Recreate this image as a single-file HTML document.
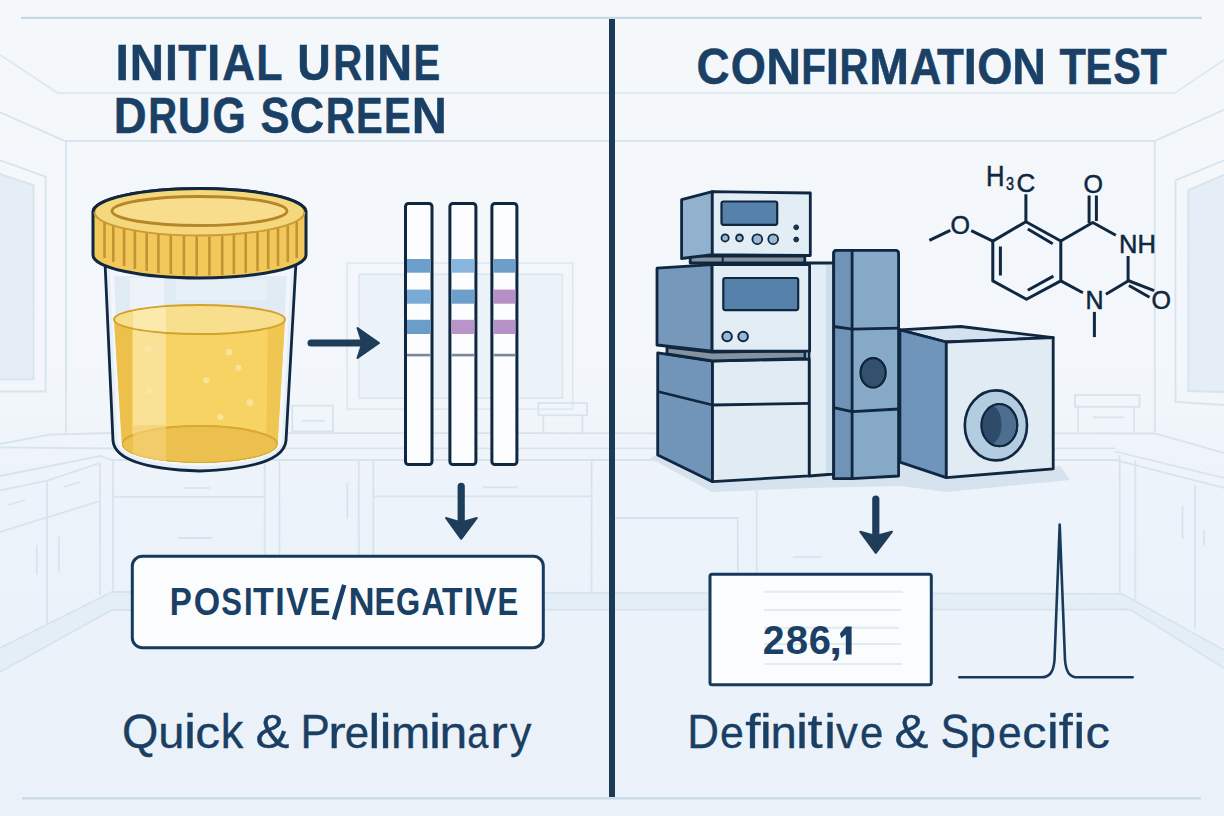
<!DOCTYPE html>
<html><head><meta charset="utf-8">
<style>
html,body{margin:0;padding:0;width:1224px;height:816px;overflow:hidden;background:#eef4f9;}
svg{display:block;}
text{font-family:"Liberation Sans",sans-serif;}
</style></head>
<body>
<svg width="1224" height="816" viewBox="0 0 1224 816">
<defs>
<linearGradient id="bgg" x1="0" y1="0" x2="0" y2="1">
<stop offset="0" stop-color="#f4f8fb"/>
<stop offset="0.45" stop-color="#f3f7fb"/>
<stop offset="0.6" stop-color="#edf3fa"/>
<stop offset="1" stop-color="#eaf1f9"/>
</linearGradient>
</defs>
<rect x="0" y="0" width="1224" height="816" fill="url(#bgg)"/>

<!-- BACKGROUND ROOM -->
<g id="room" fill="none" stroke="#d7e4ee" stroke-width="1.8">
<!-- window panels fill -->
<path d="M0,174 L33.4,185 L33.4,379.4 L0,379.4 Z" fill="#e5eef6" stroke="none"/>
<rect x="359" y="274.3" width="203.4" height="123.8" fill="#ebf2f8" stroke="none"/>
<path d="M1188,190 L1224,175 L1224,392 L1188,391 Z" fill="#e5eef6" stroke="none"/>
<path d="M0,648 L112,592 L1122,593.8 L1224,650 L1224,668 L1130,609.5 L112,610 L0,672 Z" fill="#e4eef6" stroke="none"/>
<!-- ceiling / wall edges -->
<path d="M0,112.3 L64.5,140.8 L1155,140.8 L1224,109.7"/>
<path d="M0,55 L58,93 L1174.8,93.2 L1224,60" stroke="#dde8f1"/>
<line x1="66" y1="141" x2="66" y2="433"/>
<line x1="1154.8" y1="141" x2="1154.8" y2="432"/>
<!-- left window -->
<path d="M0,160.3 L45.6,176.6 L45.6,391.5 L0,391.5"/>
<path d="M0,174 L33.6,185.2 L33.6,379.4 L0,379.4"/>
<!-- right window -->
<path d="M1224,160.4 L1175.5,180.3 L1175.5,402 L1224,405"/>
<path d="M1224,174.8 L1188.3,190.2 L1188.3,391 L1224,392"/>
<!-- back window behind strips -->
<rect x="347.2" y="263.3" width="225.5" height="145.9" stroke="#dfe9f1"/>
<rect x="359" y="274.3" width="203.4" height="123.8" stroke="#dce7f0"/>
<!-- counter -->
<path d="M0,444 L49.7,434.6 L109.8,433 L1154.8,433.5 L1224,453"/>
<path d="M0,447.4 L112,448.5 L1115,448.3"/>
<path d="M0,476 L100,456 L112,460 L1115,460 L1224,488"/>
<path d="M0,490.3 L47,480.6 L100,463"/>
<!-- left cabinets -->
<line x1="47" y1="480.6" x2="47" y2="624.7"/>
<line x1="100" y1="463" x2="100" y2="595"/>
<line x1="113" y1="460" x2="113" y2="592"/>
<path d="M0,532 L100,501"/>
<path d="M0,648 L112,592 L1122,593.8 L1224,650"/>
<path d="M0,672 L112,610 L1130,609.5 L1224,668"/>
<line x1="36.8" y1="545" x2="36.8" y2="574.7"/>
<line x1="58.8" y1="536.5" x2="58.8" y2="571.8"/>
<line x1="8" y1="505" x2="25" y2="500"/><line x1="64" y1="487" x2="80" y2="482"/>
<!-- back cabinets -->
<line x1="264.7" y1="460" x2="264.7" y2="592"/>
<line x1="279.4" y1="460" x2="279.4" y2="592"/>
<line x1="358.8" y1="460" x2="358.8" y2="592"/>
<line x1="373.3" y1="460" x2="373.3" y2="592"/>
<line x1="591.6" y1="460" x2="591.6" y2="592"/>
<line x1="113" y1="496.8" x2="264.7" y2="496.8"/>
<line x1="373.3" y1="496.4" x2="591.6" y2="496.4"/>
<line x1="185" y1="488" x2="210" y2="488"/><line x1="178" y1="538" x2="212" y2="538"/>
<line x1="482.8" y1="487.3" x2="517.5" y2="487.3"/>
<line x1="347.3" y1="482.8" x2="347.3" y2="519"/>
<!-- counter items -->
<rect x="292.3" y="405.7" width="40.7" height="25.7"/>
<line x1="302" y1="420.8" x2="325" y2="420.8"/>
<rect x="538.4" y="403" width="48.6" height="12.3"/>
<line x1="543.3" y1="415" x2="543.3" y2="433"/><line x1="582.5" y1="415" x2="582.5" y2="433"/>
<rect x="1075" y="395" width="64.5" height="11.8"/>
<path d="M1078,406.8 L1078,431.4 M1134,406.8 L1134,431.4"/>
<line x1="1093" y1="417.3" x2="1124" y2="417.3"/>
<!-- right panel cabinets -->
<path d="M612,518 L737.8,518 L737.8,592"/>
<line x1="756.7" y1="490" x2="756.7" y2="592"/>
<line x1="793" y1="557" x2="822" y2="557"/>
<line x1="1119.7" y1="455" x2="1119.7" y2="594"/>
<line x1="1135.3" y1="460" x2="1135.3" y2="600"/>
<line x1="1195" y1="485" x2="1195" y2="629"/>
<path d="M1115,451.5 L1224,478"/>
<line x1="1182.5" y1="505.7" x2="1182.5" y2="539"/>
<line x1="1204" y1="530" x2="1204" y2="545"/>
</g>

<!-- frame lines -->
<line x1="21" y1="17.8" x2="1202" y2="17.8" stroke="#c8d9e6" stroke-width="2.2"/>
<line x1="22" y1="798.4" x2="1201" y2="798.4" stroke="#c8d9e6" stroke-width="2.2"/>
<rect x="609" y="19" width="6" height="778" fill="#1b3a56"/>

<!-- TITLES -->
<g font-size="50" font-weight="bold" fill="#1a4065" stroke="#1a4065" stroke-width="0.5"><text transform="translate(115.55,80.3) scale(0.972,1)">I</text><text transform="translate(129.63,80.3) scale(0.949,1)">N</text><text transform="translate(164.89,80.3) scale(0.930,1)">I</text><text transform="translate(178.29,80.3) scale(0.917,1)">T</text><text transform="translate(207.00,80.3) scale(0.958,1)">I</text><text transform="translate(222.27,80.3) scale(0.906,1)">A</text><text transform="translate(256.32,80.3) scale(0.861,1)">L</text><text transform="translate(297.31,80.3) scale(0.928,1)">U</text><text transform="translate(333.21,80.3) scale(0.803,1)">R</text><text transform="translate(363.10,80.3) scale(0.958,1)">I</text><text transform="translate(376.93,80.3) scale(0.976,1)">N</text><text transform="translate(413.55,80.3) scale(0.800,1)">E</text></g>
<g font-size="50" font-weight="bold" fill="#1a4065" stroke="#1a4065" stroke-width="0.5"><text transform="translate(113.86,132.8) scale(0.910,1)">D</text><text transform="translate(148.33,132.8) scale(0.800,1)">R</text><text transform="translate(177.86,132.8) scale(0.912,1)">U</text><text transform="translate(212.54,132.8) scale(0.857,1)">G</text><text transform="translate(260.44,132.8) scale(0.871,1)">S</text><text transform="translate(289.84,132.8) scale(0.957,1)">C</text><text transform="translate(325.81,132.8) scale(0.803,1)">R</text><text transform="translate(356.00,132.8) scale(0.800,1)">E</text><text transform="translate(383.90,132.8) scale(0.800,1)">E</text><text transform="translate(411.85,132.8) scale(0.973,1)">N</text></g>
<g font-size="50" font-weight="bold" fill="#1a4065" stroke="#1a4065" stroke-width="0.5"><text transform="translate(696.42,84.3) scale(0.915,1)">C</text><text transform="translate(730.75,84.3) scale(0.904,1)">O</text><text transform="translate(766.17,84.3) scale(0.966,1)">N</text><text transform="translate(801.18,84.3) scale(0.812,1)">F</text><text transform="translate(825.70,84.3) scale(0.958,1)">I</text><text transform="translate(839.52,84.3) scale(0.800,1)">R</text><text transform="translate(869.30,84.3) scale(0.955,1)">M</text><text transform="translate(909.81,84.3) scale(0.876,1)">A</text><text transform="translate(936.91,84.3) scale(0.880,1)">T</text><text transform="translate(963.64,84.3) scale(0.944,1)">I</text><text transform="translate(977.15,84.3) scale(0.904,1)">O</text><text transform="translate(1012.28,84.3) scale(0.932,1)">N</text><text transform="translate(1059.51,84.3) scale(0.866,1)">T</text><text transform="translate(1085.55,84.3) scale(0.800,1)">E</text><text transform="translate(1113.21,84.3) scale(0.828,1)">S</text><text transform="translate(1140.72,84.3) scale(0.852,1)">T</text></g>

<!-- JAR -->
<g id="jar">
<!-- glass body -->
<path d="M105,262 L113,441 C115,458 140,469 199.5,471 C259,469 284,458 286,441 L296,262 Z" fill="#e6eff7"/>
<path d="M110,270 L117,440 C119,454 142,464 199.5,466 C257,464 280,454 282,440 L291,270 Z" fill="#f3f7fb"/>
<path d="M114,276 L121,440 L278,440 L287,276 Z" fill="#e1ebf4"/>
<rect x="130" y="278" width="34" height="170" fill="#eef4f9" opacity="0.9"/>
<rect x="176" y="280" width="90" height="20" fill="#ebf2f8" opacity="0.7"/>
<!-- liquid -->
<clipPath id="liq"><path d="M114,319.5 L122,444.5 A77.75,18.5 0 0 0 277.5,444.5 L285,319.5 Z"/></clipPath>
<g clip-path="url(#liq)">
<rect x="110" y="300" width="180" height="170" fill="#f6d362"/>
<path d="M110,300 L110,470 L132,470 L132,300 Z" fill="#ecc04a"/>
<rect x="133" y="300" width="33" height="170" fill="#f9e196"/>
<path d="M268,300 L266,470 L290,470 L290,300 Z" fill="#f0c653"/>
<ellipse cx="199.75" cy="444.5" rx="77.75" ry="18.5" fill="#ebc04e" stroke="#d9a934" stroke-width="1.5"/>
<ellipse cx="199.75" cy="444.5" rx="77.75" ry="18.5" fill="none" stroke="#d9a934" stroke-width="2"/>
<rect x="133" y="425" width="33" height="45" fill="#f3d273" opacity="0.7"/>
</g>
<ellipse cx="199.5" cy="319.5" rx="85.5" ry="14.5" fill="#f8df8d" stroke="#d3a22c" stroke-width="2"/>
<clipPath id="liqtop"><ellipse cx="199.5" cy="319.5" rx="84.5" ry="13.5"/></clipPath>
<rect x="133" y="300" width="33" height="40" fill="#fcecb5" opacity="0.8" clip-path="url(#liqtop)"/>
<g fill="#fbe8a8" opacity="0.85">
<circle cx="148.4" cy="349" r="3.2"/><circle cx="229.3" cy="352.3" r="3.2"/><circle cx="238.4" cy="367.7" r="3"/>
<circle cx="206.2" cy="380.5" r="3"/><circle cx="149" cy="391.5" r="3"/><circle cx="249.9" cy="402.6" r="3.3"/><circle cx="220.3" cy="416.9" r="3"/>
</g>
<!-- outline -->
<path d="M105,262 L113,441 C115,458 140,469 199.5,471 C259,469 284,458 286,441 L296,262" fill="none" stroke="#10273f" stroke-width="2.8" stroke-linejoin="round"/>
<!-- lid -->
<path d="M93,212 A106.5,23.5 0 0 1 306,212 L306,255 A106.5,23 0 0 1 93,255 Z" fill="#f2c85a" stroke="#10273f" stroke-width="3"/>
<g stroke="#c39433" stroke-width="2.6">
<line x1="104.5" y1="222" x2="104.5" y2="258"/><line x1="113.3" y1="225" x2="113.3" y2="262"/><line x1="124.1" y1="228" x2="124.1" y2="266"/>
<line x1="134.9" y1="230" x2="134.9" y2="269"/><line x1="146.7" y1="232" x2="146.7" y2="271"/><line x1="158.4" y1="234" x2="158.4" y2="273"/>
<line x1="170.8" y1="235" x2="170.8" y2="274"/><line x1="183.9" y1="236" x2="183.9" y2="275"/><line x1="196.7" y1="236.5" x2="196.7" y2="275.5"/>
<line x1="209.4" y1="236.5" x2="209.4" y2="275.5"/><line x1="222.2" y1="236" x2="222.2" y2="275"/><line x1="233.9" y1="235" x2="233.9" y2="274"/>
<line x1="245.7" y1="234" x2="245.7" y2="273"/><line x1="257.5" y1="232" x2="257.5" y2="271"/><line x1="268.2" y1="230" x2="268.2" y2="269"/>
<line x1="278" y1="228" x2="278" y2="266"/><line x1="287.8" y1="225" x2="287.8" y2="262"/><line x1="296.7" y1="222" x2="296.7" y2="258"/>
</g>
<ellipse cx="199.5" cy="212" rx="105" ry="23.5" fill="#f6d87c" stroke="#c99a35" stroke-width="2"/>
<ellipse cx="199.5" cy="211" rx="87.5" ry="14.5" fill="#f8de8c" stroke="#b5862a" stroke-width="2.8"/>
<path d="M93,212 A106.5,23.5 0 0 1 306,212" fill="none" stroke="#10273f" stroke-width="3"/>
</g>

<!-- STRIPS -->
<g id="strips">
<g fill="#fcfdfe" stroke="#0f2740" stroke-width="3">
<rect x="405.5" y="203.5" width="26.5" height="261" rx="3"/>
<rect x="449.9" y="203.5" width="26" height="261" rx="3"/>
<rect x="491.9" y="203.5" width="25" height="261" rx="3"/>
</g>
<rect x="407" y="259" width="23.5" height="13.7" fill="#6d9fcc"/>
<rect x="407" y="289.6" width="23.5" height="14.1" fill="#7aaad6"/>
<rect x="407" y="319.8" width="23.5" height="14.2" fill="#6a9dca"/>
<rect x="451.4" y="259" width="23" height="13.7" fill="#88b6de"/>
<rect x="451.4" y="289.6" width="23" height="14.1" fill="#6c9fcb"/>
<rect x="451.4" y="319.8" width="23" height="14.2" fill="#b994c9"/>
<rect x="493.4" y="259" width="22" height="13.7" fill="#6d9ec9"/>
<rect x="493.4" y="289.6" width="22" height="14.1" fill="#b68fc6"/>
<rect x="493.4" y="319.8" width="22" height="14.2" fill="#b692c8"/>
<g fill="#7b8897">
<rect x="407" y="353.8" width="23.5" height="2.6"/>
<rect x="451.4" y="353.8" width="23" height="2.6"/>
<rect x="493.4" y="353.8" width="22" height="2.6"/>
</g>
</g>

<!-- ARROWS -->
<g fill="#1e3d5b" stroke="#1e3d5b" stroke-linejoin="round">
<line x1="311" y1="343" x2="362" y2="343" stroke-width="7" stroke-linecap="round"/>
<path d="M379,343 L357.5,328 L362.5,343 L357.5,358 Z" stroke-width="2"/>
<line x1="461.2" y1="486.3" x2="461.2" y2="524" stroke-width="7.2" stroke-linecap="round"/>
<path d="M461.2,538.8 L446,518 L461.2,522.5 L476.8,518 Z" stroke-width="2"/>
<line x1="875.8" y1="499" x2="875.8" y2="537" stroke-width="7.2" stroke-linecap="round"/>
<path d="M875.8,553 L860.2,531.7 L875.8,536 L892,531.7 Z" stroke-width="2"/>
</g>

<!-- MACHINES -->
<g id="machines" stroke="#0f2740" stroke-width="2.8" stroke-linejoin="round">
<!-- shadow -->
<path d="M650,458 L712,492 L812,488 L900,486 L946,492 L1070,480 L1060,466 L946,478 L900,462 L712,482 L657,455 Z" fill="#d6e3ee" stroke="none"/>
<!-- right panel behind (between box stack and column) -->
<path d="M806,263 L834,263 L834,474 L809,476 L809,263 Z" fill="#e2edf6"/>
<rect x="826" y="265" width="7" height="208" fill="#cddfed" stroke="none"/>
<!-- box 3 -->
<path d="M657.7,352.9 L712.5,360.8 L712.5,481.7 L657.7,455 Z" fill="#7195b9"/>
<path d="M712.5,360.8 L809.2,359.2 L809.2,475.8 L712.5,481.7 Z" fill="#e1ebf4"/>
<path d="M657.7,391.5 L712.5,405 L809.2,403.3" fill="none"/>
<!-- gray strip under box2 -->
<path d="M667,347 L712.5,352 L805,351 L805,358.5 L712.5,361 L667,354 Z" fill="#8592a0"/>
<!-- box 2 -->
<path d="M657,268.2 L712.1,264.6 L712.1,351.2 L657,345 Z" fill="#7598bb"/>
<path d="M712.1,264.6 L809.6,264.6 L809.6,351.2 L712.1,351.2 Z" fill="#e2ecf4"/>
<rect x="723.3" y="278" width="74.9" height="32.1" rx="2" fill="#5580aa" stroke-width="2.2"/>
<circle cx="727.1" cy="336.5" r="4.8" fill="#98b8d3" stroke-width="2"/>
<circle cx="743.1" cy="336.5" r="4.8" fill="#98b8d3" stroke-width="2"/>
<!-- gray strip under box1 -->
<path d="M690.2,256 L804.8,256 L804.8,263 L690.2,263 Z" fill="#8893a0"/>
<line x1="722.7" y1="256" x2="722.7" y2="263" stroke-width="2"/>
<!-- box 1 -->
<path d="M681.6,199.7 L712.3,191.7 L712.3,254.6 L681.6,258.5 Z" fill="#91b1ce"/>
<path d="M712.3,191.7 L810.3,193 L810.3,255.5 L712.3,254.6 Z" fill="#e3edf5"/>
<rect x="721.5" y="201.5" width="55.7" height="23.3" rx="2" fill="#5681ab" stroke-width="2.2"/>
<circle cx="725.1" cy="237.9" r="3.6" fill="#98b8d3" stroke-width="1.8"/>
<circle cx="739.5" cy="237.9" r="3.4" fill="#98b8d3" stroke-width="1.8"/>
<circle cx="757.3" cy="239.2" r="4.9" fill="#98b8d3" stroke-width="1.8"/>
<circle cx="773.2" cy="239.2" r="4.9" fill="#98b8d3" stroke-width="1.8"/>
<circle cx="796.2" cy="227.3" r="2.4" fill="#1b3550" stroke-width="1"/>
<circle cx="796.2" cy="239.5" r="2.4" fill="#1b3550" stroke-width="1"/>
<!-- column -->
<path d="M833.7,253.5 Q833.7,250.4 836.7,250.4 L895.6,250.4 Q898.6,250.4 898.6,253.5 L898.6,476 L852.1,478.6 L833.7,478.6 Z" fill="#87a9c8"/>
<path d="M833.7,253.5 Q833.7,250.4 836.7,250.4 L852.1,250.4 L852.1,478.6 L833.7,478.6 Z" fill="#6f94b8"/>
<path d="M833.7,326.5 L852.1,329.2 L898.6,328.2" fill="none"/>
<path d="M833.7,407.6 L852.1,411.6 L898.6,409" fill="none"/>
<ellipse cx="873.1" cy="372.8" rx="14.5" ry="16.7" fill="#9dbbd6" stroke="none"/><ellipse cx="873.1" cy="372.8" rx="12.6" ry="14.8" fill="#33506d" stroke-width="2.4"/>
<!-- big box -->
<path d="M899.9,329.9 L960.6,326.5 L1053.2,337.6 L946.3,342 Z" fill="#d3e2ee"/>
<path d="M899.9,329.9 L946.3,342 L946.3,477.7 L899.9,462.2 Z" fill="#7095ba"/>
<path d="M946.3,342 L1053.2,337.6 L1053.2,468.8 L946.3,477.7 Z" fill="#e1ebf4"/>
<ellipse cx="995.9" cy="425.4" rx="31.1" ry="35" fill="#b3cce0" stroke-width="2.6"/>
<ellipse cx="999.4" cy="425.2" rx="17.9" ry="21.1" fill="#4d6e8f" stroke-width="2"/>
<clipPath id="inner"><ellipse cx="999.4" cy="425.2" rx="17.9" ry="21.1"/></clipPath>
<ellipse cx="991" cy="424.5" rx="10.5" ry="19" fill="#2e4c69" stroke="none" clip-path="url(#inner)"/>
<ellipse cx="999.4" cy="425.2" rx="17.9" ry="21.1" fill="none" stroke-width="2"/>
</g>

<!-- MOLECULE -->
<g id="mol" stroke="#0f2740" stroke-width="3" fill="none" stroke-linecap="butt" stroke-linejoin="round">
<path d="M1025.9,194.3 L1025.9,221.7 L992.8,241.1 L992.8,280.9 L1026.5,299.2 L1060.8,280.9 L1060.8,241 L1025.9,221.7"/>
<line x1="1000.4" y1="246.5" x2="1000.4" y2="275.5"/>
<line x1="1027.8" y1="229" x2="1052.7" y2="243.8"/>
<line x1="1027.8" y1="290.3" x2="1053.4" y2="276.1"/>
<line x1="929.4" y1="240.4" x2="950.3" y2="230.3"/>
<line x1="971.2" y1="230.7" x2="992.8" y2="241.1"/>
<path d="M1060.8,241 L1092.8,222.5 L1115.8,235.3"/>
<line x1="1089.1" y1="195.5" x2="1089.1" y2="223"/>
<line x1="1096.4" y1="195.5" x2="1096.4" y2="221"/>
<line x1="1128.1" y1="256" x2="1128.1" y2="281"/>
<path d="M1128.1,281 L1105.9,294.3"/>
<line x1="1128" y1="280.5" x2="1154.1" y2="290.7"/>
<line x1="1128.9" y1="285.5" x2="1149.5" y2="297.3"/>
<line x1="1060.8" y1="280.9" x2="1082.9" y2="292.7"/>
<line x1="1094.4" y1="311.9" x2="1094.4" y2="337.1"/>
</g>
<g fill="#0f2740" font-size="26" stroke="#0f2740" stroke-width="0.5">
<text x="986" y="185.5" font-size="29" textLength="18.5" lengthAdjust="spacingAndGlyphs">H</text>
<text x="1006" y="190" font-size="18" textLength="8" lengthAdjust="spacingAndGlyphs">3</text>
<text x="1016.5" y="191.6" font-size="26">C</text>
<text x="950.5" y="234" font-size="25">O</text>
<text x="1083.5" y="192.5" font-size="25">O</text>
<text x="1119" y="252.5" font-size="25.5">NH</text>
<text x="1085.5" y="308.5" font-size="25">N</text>
<text x="1151.5" y="308.7" font-size="25">O</text>
</g>

<!-- POS/NEG box -->
<rect x="132.3" y="556.2" width="411" height="91.5" rx="10" fill="#fbfcfd" stroke="#173a5c" stroke-width="3"/>
<g font-size="38.8" font-weight="bold" fill="#1a4065"><text transform="translate(169.79,615) scale(0.852,1)">P</text><text transform="translate(193.71,615) scale(0.875,1)">O</text><text transform="translate(221.36,615) scale(0.800,1)">S</text><text transform="translate(244.01,615) scale(0.805,1)">I</text><text transform="translate(253.12,615) scale(0.875,1)">T</text><text transform="translate(275.32,615) scale(0.877,1)">I</text><text transform="translate(285.97,615) scale(0.868,1)">V</text><text transform="translate(309.47,615) scale(0.800,1)">E</text><text transform="translate(348.38,615) scale(0.934,1)">N</text><text transform="translate(374.57,615) scale(0.800,1)">E</text><text transform="translate(396.05,615) scale(0.800,1)">G</text><text transform="translate(421.40,615) scale(0.830,1)">A</text><text transform="translate(442.02,615) scale(0.867,1)">T</text><text transform="translate(463.88,615) scale(0.895,1)">I</text><text transform="translate(474.07,615) scale(0.868,1)">V</text><text transform="translate(497.52,615) scale(0.800,1)">E</text></g>

<line x1="344.2" y1="584.8" x2="334" y2="619.5" stroke="#1a4065" stroke-width="4.6"/>
<!-- bottom captions -->
<g font-size="47.5" font-weight="normal" fill="#1a3f63" stroke="#1a3f63" stroke-width="0.35"><text transform="translate(121.89,747.5) scale(0.984,1.0)">Q</text><text transform="translate(158.24,747.5) scale(0.991,0.925)">u</text><text transform="translate(184.05,747.5) scale(1.150,1.0)">i</text><text transform="translate(195.29,747.5) scale(1.045,0.925)">c</text><text transform="translate(220.66,747.5) scale(0.951,1.0)">k</text><text transform="translate(255.61,747.5) scale(1.069,1.0)">&amp;</text><text transform="translate(300.39,747.5) scale(0.926,1.0)">P</text><text transform="translate(328.29,747.5) scale(1.112,0.925)">r</text><text transform="translate(344.64,747.5) scale(0.924,0.925)">e</text><text transform="translate(368.37,747.5) scale(1.150,1.0)">l</text><text transform="translate(379.60,747.5) scale(1.150,1.0)">i</text><text transform="translate(390.88,747.5) scale(0.989,0.925)">m</text><text transform="translate(429.00,747.5) scale(1.150,1.0)">i</text><text transform="translate(439.49,747.5) scale(1.051,0.925)">n</text><text transform="translate(467.13,747.5) scale(0.800,0.925)">a</text><text transform="translate(490.32,747.5) scale(1.103,0.925)">r</text><text transform="translate(510.10,747.5) scale(0.901,0.925)">y</text></g>
<g font-size="47.5" font-weight="normal" fill="#1a3f63" stroke="#1a3f63" stroke-width="0.35"><text transform="translate(687.30,747.5) scale(0.924,1.0)">D</text><text transform="translate(719.98,747.5) scale(0.902,0.925)">e</text><text transform="translate(745.13,747.5) scale(1.150,1.0)">f</text><text transform="translate(759.80,747.5) scale(1.150,1.0)">i</text><text transform="translate(770.56,747.5) scale(0.996,0.925)">n</text><text transform="translate(796.05,747.5) scale(1.150,1.0)">i</text><text transform="translate(807.55,747.5) scale(1.150,1.0)">t</text><text transform="translate(824.00,747.5) scale(1.150,1.0)">i</text><text transform="translate(836.05,747.5) scale(0.918,0.925)">v</text><text transform="translate(859.93,747.5) scale(0.879,0.925)">e</text><text transform="translate(894.61,747.5) scale(1.069,1.0)">&amp;</text><text transform="translate(940.53,747.5) scale(0.914,1.0)">S</text><text transform="translate(969.32,747.5) scale(1.007,0.925)">p</text><text transform="translate(997.90,747.5) scale(0.893,0.925)">e</text><text transform="translate(1022.14,747.5) scale(1.021,0.925)">c</text><text transform="translate(1046.80,747.5) scale(1.150,1.0)">i</text><text transform="translate(1058.69,747.5) scale(1.056,1.0)">f</text><text transform="translate(1073.30,747.5) scale(1.150,1.0)">i</text><text transform="translate(1085.43,747.5) scale(1.025,0.925)">c</text></g>

<!-- RESULT box -->
<rect x="710" y="574.2" width="221.3" height="110.5" rx="2" fill="#fbfcfd" stroke="#173a5c" stroke-width="3"/>
<g stroke="#e2eaf2" stroke-width="2">
<line x1="764" y1="591.7" x2="903" y2="591.7"/><line x1="764" y1="610" x2="901" y2="610"/><line x1="764" y1="627.8" x2="899" y2="627.8"/>
<line x1="764" y1="644" x2="901" y2="644"/><line x1="764" y1="664" x2="902" y2="664"/>
</g>
<path d="M959.3,677.3 L1041,677.3 C1050,677.3 1053.5,672 1054.5,660 L1059.7,524.5 L1065,660 C1066,672 1069.5,677.3 1078,677.3 L1132.7,677.3" fill="none" stroke="#173a5c" stroke-width="2.6" stroke-linejoin="round" stroke-linecap="round"/>
<g font-size="40" font-weight="bold" fill="#1a4065"><text transform="translate(762.64,654.4) scale(0.981,1)">2</text><text transform="translate(785.63,654.4) scale(1.003,1)">8</text><text transform="translate(808.84,654.4) scale(0.998,1)">6</text><text transform="translate(829.24,654.4) scale(1.150,1)">,</text></g>
<path d="M845.8,626.5 L851.6,626.5 L851.6,654.4 L845.8,654.4 L845.8,634.5 L841.2,638.2 L839.9,633.6 Z" fill="#1a4065"/>

</svg>
</body></html>
